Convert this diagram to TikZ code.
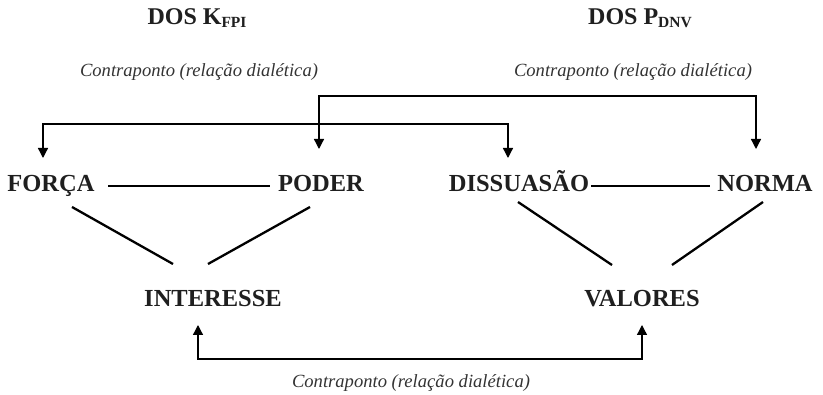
\documentclass[tikz,border=0pt]{standalone}
\usepackage{fontspec}
\setmainfont{Liberation Serif}
\usetikzlibrary{arrows.meta}
\tikzset{
  concept/.style={inner sep=0pt, anchor=base, font=\fontsize{24.5}{26}\selectfont\bfseries, text=black!88},
  heading/.style={inner sep=0pt, anchor=base, font=\fontsize{24}{26}\selectfont\bfseries, text=black!88},
  relabel/.style={inner sep=0pt, anchor=base, font=\fontsize{18.6}{20}\selectfont\itshape, text=black!80},
  link/.style={line width=2.3pt},
  counter/.style={line width=1.3pt, -{Triangle[length=10pt,width=10pt]}}
}
\newcommand{\sub}[1]{\raisebox{-2.5pt}{\fontsize{15.5}{15.5}\selectfont #1}}
\begin{document}
\begin{tikzpicture}[x=1pt,y=-1pt]
\useasboundingbox (0,0) rectangle (823,395);
% headings
\node[heading] (hk) at (197,25) {DOS K\sub{FPI}};
\node[heading] (hp) at (640,25) {DOS P\sub{DNV}};
% relation labels
\node[relabel] (cl) at (199,77) {Contraponto (relação dialética)};
\node[relabel] (cr) at (633,77) {Contraponto (relação dialética)};
\node[relabel] (cb) at (411,388) {Contraponto (relação dialética)};
% concepts
\node[concept] (forca) at (51,192) {FORÇA};
\node[concept] (poder) at (321,192) {PODER};
\node[concept] (diss) at (519,192) {DISSUASÃO};
\node[concept] (norma) at (765,192) {NORMA};
\node[concept] (inter) at (213,307) {INTERESSE};
\node[concept] (valor) at (642,307) {VALORES};
% coordinates
\coordinate (fpa) at (108,186);
\coordinate (fpb) at (270,186);
\coordinate (dna) at (591,186);
\coordinate (dnb) at (710,186);
\coordinate (fi1) at (72,207);
\coordinate (fi2) at (173,264);
\coordinate (pi1) at (310,207);
\coordinate (pi2) at (208,264);
\coordinate (dv1) at (518,202);
\coordinate (dv2) at (612,265);
\coordinate (nv1) at (763,202);
\coordinate (nv2) at (672,265);
\coordinate (b1l) at (43,124);
\coordinate (b1r) at (508,124);
\coordinate (b1lt) at (43,158);
\coordinate (b1rt) at (508,158);
\coordinate (b2l) at (319,96);
\coordinate (b2r) at (756,96);
\coordinate (b2lt) at (319,149);
\coordinate (b2rt) at (756,149);
\coordinate (b3l) at (198,359);
\coordinate (b3r) at (642,359);
\coordinate (b3lt) at (198,325);
\coordinate (b3rt) at (642,325);
% connecting lines
\draw[link] (fpa) -- (fpb);
\draw[link] (dna) -- (dnb);
\draw[link] (fi1) -- (fi2);
\draw[link] (pi1) -- (pi2);
\draw[link] (dv1) -- (dv2);
\draw[link] (nv1) -- (nv2);
% counterpoint brackets
\draw[counter] (b1r) -- (b1l) -- (b1lt);
\draw[counter] (b1l) -- (b1r) -- (b1rt);
\draw[counter] (b2r) -- (b2l) -- (b2lt);
\draw[counter] (b2l) -- (b2r) -- (b2rt);
\draw[counter] (b3r) -- (b3l) -- (b3lt);
\draw[counter] (b3l) -- (b3r) -- (b3rt);
\end{tikzpicture}
\end{document}
